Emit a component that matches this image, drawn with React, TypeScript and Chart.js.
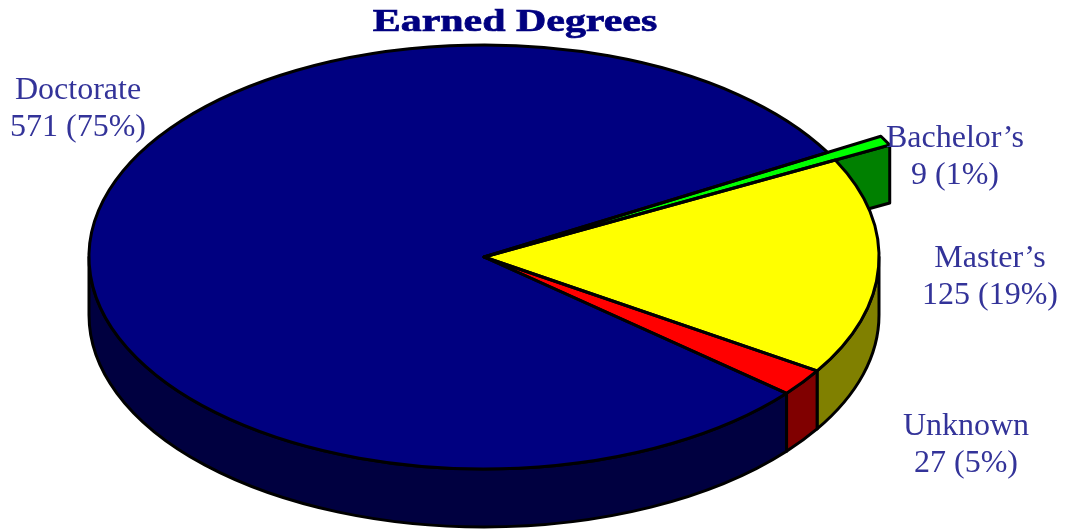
import React, { useEffect, useRef } from "react";
import { Chart, registerables } from "chart.js";

Chart.register(...registerables);

const titleText = "Earned Degrees";
const categories = ["Doctorate", "Bachelor\u2019s", "Master\u2019s", "Unknown"];
const counts = [571, 9, 125, 27];
const labelledPercents = [75, 1, 19, 5];
// Share of the circle each slice visibly occupies in the picture (measured; it differs from the printed counts).
const measuredSliceShare = [80.68, 0.65, 16.59, 2.08];
const topColors = ["#000080", "#00ff00", "#ffff00", "#ff0000"];
const wallColors = ["#000040", "#008000", "#808000", "#800000"];
const labelAnchors = [
  [78, 91, 128],
  [955, 139, 176],
  [990, 259, 296],
  [966, 427, 464],
];

const W = 1065;
const H = 531;
const CX = 484;
const CY = 257;
const RX = 395;
const RY = 212;
const DEPTH = 58;
const EXPLODED = 1;
const EXPLODE_K = 1.155;
const TAU = Math.PI * 2;

function topPath(ctx: CanvasRenderingContext2D, s: number, e: number, k: number) {
  ctx.beginPath();
  ctx.moveTo(CX, CY);
  ctx.ellipse(CX, CY, RX * k, RY * k, 0, s, e);
  ctx.closePath();
}

function drawWall(ctx: CanvasRenderingContext2D, s: number, e: number, color: string) {
  for (let n = -1; n <= 1; n++) {
    const a = Math.max(s, n * TAU);
    const b = Math.min(e, n * TAU + Math.PI);
    if (b <= a) continue;
    ctx.beginPath();
    ctx.ellipse(CX, CY, RX, RY, 0, a, b);
    ctx.ellipse(CX, CY + DEPTH, RX, RY, 0, b, a, true);
    ctx.closePath();
    ctx.fillStyle = color;
    ctx.fill();
    ctx.stroke();
  }
}

const pie3d = {
  id: "pie3d",
  afterDatasetsUpdate(chart: any) {
    const arcs = chart.getDatasetMeta(0).data;
    const arc = arcs[EXPLODED];
    chart.$baseR = arcs[0].outerRadius;
    arc.outerRadius = chart.$baseR * EXPLODE_K;
  },
  beforeDatasetsDraw(chart: any) {
    const ctx: CanvasRenderingContext2D = chart.ctx;
    const arcs = chart.getDatasetMeta(0).data;
    ctx.save();
    ctx.lineWidth = 3;
    ctx.strokeStyle = "#000";
    ctx.lineJoin = "round";

    // Side face of the pulled-out slice, behind everything else
    const g = arcs[EXPLODED];
    const ex = CX + RX * EXPLODE_K * Math.cos(g.endAngle);
    const ey = CY + RY * EXPLODE_K * Math.sin(g.endAngle);
    ctx.beginPath();
    ctx.moveTo(CX, CY);
    ctx.lineTo(ex, ey);
    ctx.lineTo(ex, ey + DEPTH);
    ctx.lineTo(CX, CY + DEPTH);
    ctx.closePath();
    ctx.fillStyle = wallColors[EXPLODED];
    ctx.fill();
    ctx.stroke();

    arcs.forEach((arc: any, i: number) => {
      if (i !== EXPLODED) drawWall(ctx, arc.startAngle, arc.endAngle, wallColors[i]);
    });
    ctx.restore();

    // Squash the library's circular pie into the tilted ellipse
    const c = arcs[0];
    const R = chart.$baseR;
    ctx.save();
    ctx.translate(CX, CY);
    ctx.scale(RX / R, RY / R);
    ctx.translate(-c.x, -c.y);
  },
  afterDatasetsDraw(chart: any) {
    const ctx: CanvasRenderingContext2D = chart.ctx;
    ctx.restore();
    const arcs = chart.getDatasetMeta(0).data;
    ctx.save();
    ctx.lineWidth = 3;
    ctx.strokeStyle = "#000";
    ctx.lineJoin = "round";
    arcs.forEach((arc: any, i: number) => {
      topPath(ctx, arc.startAngle, arc.endAngle, i === EXPLODED ? EXPLODE_K : 1);
      ctx.stroke();
    });
    ctx.restore();
  },
  afterDraw(chart: any) {
    const ctx: CanvasRenderingContext2D = chart.ctx;
    ctx.save();
    ctx.textAlign = "center";
    ctx.textBaseline = "alphabetic";

    // Wide, heavy title
    ctx.save();
    ctx.translate(515, 31);
    ctx.scale(1.31, 1);
    ctx.font = 'bold 32px "Liberation Serif"';
    ctx.fillStyle = "#000080";
    ctx.strokeStyle = "#000080";
    ctx.lineWidth = 0.7;
    ctx.fillText(titleText, 0, 0);
    ctx.strokeText(titleText, 0, 0);
    ctx.restore();

    ctx.font = '32px "Liberation Serif"';
    ctx.fillStyle = "#333399";
    ctx.textBaseline = "middle";
    categories.forEach((name, i) => {
      const [x, y1, y2] = labelAnchors[i];
      ctx.fillText(name, x, y1);
      ctx.fillText(`${counts[i]} (${labelledPercents[i]}%)`, x, y2);
    });
    ctx.restore();
  },
};

export default function App() {
  const ref = useRef<HTMLCanvasElement>(null);
  useEffect(() => {
    const chart = new Chart(ref.current!, {
      type: "pie",
      data: {
        labels: categories,
        datasets: [
          {
            data: measuredSliceShare,
            backgroundColor: topColors,
            borderWidth: 0,
          },
        ],
      },
      options: {
        responsive: false,
        animation: false,
        rotation: 130,
        events: [],
        plugins: { legend: { display: false }, tooltip: { enabled: false } },
      },
      plugins: [pie3d],
    } as any);
    return () => chart.destroy();
  }, []);
  return (
    <div style={{ position: "absolute", left: 0, top: 0, width: W, height: H, background: "#fff" }}>
      <canvas ref={ref} width={W} height={H} style={{ display: "block" }} />
    </div>
  );
}
